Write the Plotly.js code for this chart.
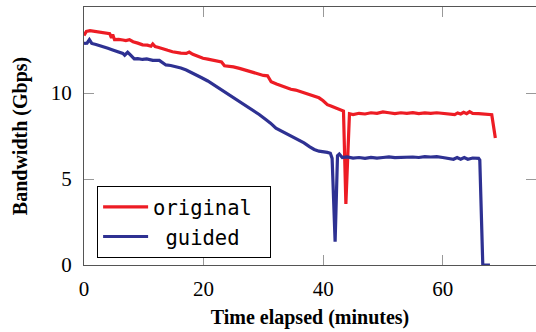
<!DOCTYPE html>
<html>
<head>
<meta charset="utf-8">
<script src="https://cdn.plot.ly/plotly-3.0.1.min.js"></script>
<style>html,body{margin:0;padding:0;background:#fff;}#chart{width:536px;height:332px;}</style>
</head>
<body>
<div id="chart"></div>
<script>
// Series: original
const originalTime = [0, 0.4, 1.0, 1.5, 2.2, 3.0, 3.6, 4.3, 4.6, 4.8, 5.1, 5.8, 6.5, 7.0, 7.6, 8.2, 9.0, 9.8, 10.6, 11.2, 11.5, 11.9, 12.5, 13.2, 14.0, 14.8, 15.4, 16.2, 17.1, 17.6, 18.2, 19.0, 19.9, 20.7, 21.6, 22.4, 23.0, 23.5, 24.3, 25.0, 26.0, 26.8, 27.7, 28.5, 29.3, 30.0, 30.7, 31.3, 32.2, 33.2, 34.0, 34.6, 35.4, 36.2, 37.0, 37.7, 38.5, 39.3, 40.0, 40.7, 41.3, 42.0, 42.6, 43.2, 43.4, 43.8, 44.4, 45, 46, 47, 48, 49, 50, 51, 52, 53, 54, 55, 56, 57, 58, 59, 60, 61, 62, 62.5, 63, 63.5, 64, 64.5, 65, 66, 67, 68.2, 68.8];
const originalBw = [13.35, 13.58, 13.62, 13.6, 13.55, 13.5, 13.48, 13.45, 13.2, 13.4, 13.1, 13.12, 13.08, 13.05, 13.1, 12.98, 12.9, 12.8, 12.78, 12.72, 12.85, 12.7, 12.65, 12.55, 12.48, 12.4, 12.35, 12.32, 12.3, 12.38, 12.25, 12.12, 12.02, 11.97, 11.9, 11.85, 11.8, 11.58, 11.55, 11.52, 11.43, 11.35, 11.27, 11.2, 11.08, 11.02, 11.0, 10.65, 10.52, 10.38, 10.3, 10.22, 10.17, 10.08, 9.98, 9.92, 9.85, 9.72, 9.55, 9.32, 9.25, 9.15, 9.05, 8.98, 8.95, 3.55, 8.8, 8.75, 8.82, 8.78, 8.85, 8.82, 8.9, 8.85, 8.8, 8.85, 8.82, 8.86, 8.8, 8.84, 8.82, 8.85, 8.8, 8.78, 8.74, 8.84, 8.78, 8.88, 8.8, 8.92, 8.82, 8.8, 8.78, 8.74, 7.38];

// Series: guided
const guidedTime = [0, 0.5, 0.9, 1.3, 2.0, 3.2, 4.0, 4.8, 5.9, 6.5, 6.8, 7.3, 7.8, 8.4, 9.0, 9.8, 10.5, 11.5, 12.6, 13.2, 13.7, 14.5, 15.4, 16.2, 17.1, 18.0, 18.8, 19.6, 20.7, 21.6, 22.7, 23.8, 24.9, 26.0, 27.1, 28.2, 29.3, 30.4, 31.2, 32.1, 33.2, 34.3, 35.1, 36.0, 36.8, 37.7, 38.5, 39.3, 40.0, 40.7, 41.2, 41.5, 42.0, 42.4, 42.7, 43.2, 44, 45, 46, 47, 48, 49, 50, 51, 52, 53, 54, 55, 56, 57, 58, 59, 60, 61, 61.8, 62.4, 63, 63.6, 64.2, 65, 66, 66.2, 66.7, 67.9];
const guidedBw = [12.88, 12.9, 13.1, 12.88, 12.82, 12.66, 12.6, 12.5, 12.4, 12.3, 12.2, 12.37, 12.2, 11.98, 12.0, 11.95, 11.98, 11.9, 11.9, 11.75, 11.63, 11.6, 11.53, 11.45, 11.34, 11.2, 11.05, 10.9, 10.7, 10.5, 10.25, 10.0, 9.75, 9.5, 9.25, 9.0, 8.75, 8.46, 8.25, 7.95, 7.75, 7.56, 7.42, 7.27, 7.1, 6.88, 6.72, 6.62, 6.6, 6.55, 6.5, 6.2, 1.35, 6.35, 6.45, 6.25, 6.28, 6.22, 6.25, 6.2, 6.26, 6.22, 6.25, 6.28, 6.24, 6.26, 6.25, 6.28, 6.25, 6.3, 6.28, 6.3, 6.25, 6.2, 6.15, 6.25, 6.15, 6.25, 6.15, 6.22, 6.2, 6.1, 0, 0];

const seriesNames = ["original\u00a0", "\u00a0guided"];
const xTicks = [0, 20, 40, 60];
const yTicks = [0, 5, 10];

const serif = "Liberation Serif, DejaVu Serif, serif";
const traces = [
  {x: originalTime, y: originalBw, name: seriesNames[0], legendgroup: "g1", type: "scatter", mode: "lines",
   line: {color: "#ED1C24", width: 3.2}},
  {x: guidedTime, y: guidedBw, name: seriesNames[1], legendgroup: "g2", type: "scatter", mode: "lines",
   line: {color: "#2E3192", width: 3.2}}
];

const axisCommon = {
  showgrid: false, zeroline: false, showline: true, linecolor: "#555", linewidth: 1,
  ticks: "inside", ticklen: 10, tickcolor: "#999", tickwidth: 1, mirror: "ticks",
  tickfont: {family: serif, size: 21, color: "#000"}
};

const layout = {
  width: 536, height: 332,
  margin: {l: 84, r: 0, t: 7, b: 67},
  paper_bgcolor: "#fff", plot_bgcolor: "#fff",
  xaxis: Object.assign({}, axisCommon, {
    range: [0, 75.6], tickvals: xTicks, ticktext: xTicks.map(String), ticklabelstandoff: 5,
    title: {text: "<b>Time elapsed (minutes)</b>", font: {family: serif, size: 20, color: "#000"}, standoff: 9}
  }),
  yaxis: Object.assign({}, axisCommon, {
    range: [0, 15], tickvals: yTicks, ticktext: yTicks.map(String), ticklabelstandoff: 7,
    title: {text: "<b>Bandwidth (Gbps)</b>", font: {family: serif, size: 20, color: "#000"}, standoff: 17}
  }),
  showlegend: true,
  legend: {
    x: 0.029, y: 0.027, xanchor: "left", yanchor: "bottom",
    bgcolor: "#fff", bordercolor: "#000", borderwidth: 1,
    font: {family: "DejaVu Sans Mono, monospace", size: 20.5, color: "#000"},
    itemwidth: 45, tracegroupgap: 3, traceorder: "normal"
  }
};

Plotly.newPlot("chart", traces, layout, {staticPlot: true, displayModeBar: false});
</script>
</body>
</html>
